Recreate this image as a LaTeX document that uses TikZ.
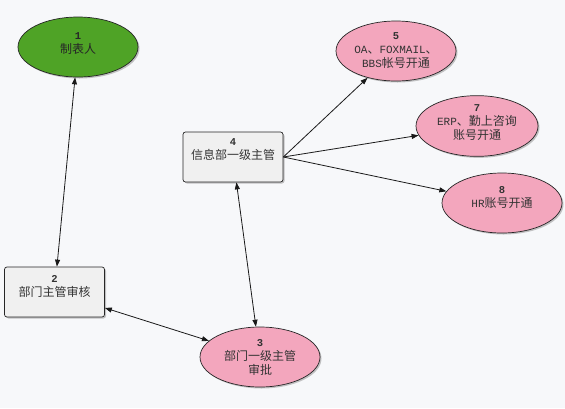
\documentclass[tikz,border=0pt]{standalone}
\usepackage{fontspec}
\setmainfont{Noto Sans CJK SC}
\newfontfamily\monof{Liberation Mono}
\usetikzlibrary{arrows.meta,shadows,shapes.geometric}
\definecolor{bgc}{HTML}{F7F8FA}
\definecolor{greenfill}{HTML}{4FA326}
\definecolor{pinkfill}{HTML}{F3A6BD}
\definecolor{boxfill}{HTML}{F0F0F0}
\definecolor{txt}{HTML}{333333}
\newcommand{\num}[1]{{\monof\bfseries\fontsize{10.5}{14}\selectfont #1}}
\newcommand{\lat}[1]{{\monof\fontsize{11}{14}\selectfont #1}}
\tikzset{
  shad/.style={drop shadow={shadow xshift=1.5pt,shadow yshift=-1.5pt,fill=black!45,opacity=0.5}},
  ell/.style={ellipse,draw=black!85,line width=0.7pt,minimum width=120pt,minimum height=60pt,
    inner sep=0pt,align=center,font=\fontsize{12}{14}\selectfont,text=txt,shad},
  bx/.style={rectangle,rounded corners=2.5pt,draw=black!85,line width=0.7pt,fill=boxfill,
    minimum width=100pt,minimum height=50pt,inner sep=0pt,align=center,
    font=\fontsize{12}{14}\selectfont,text=txt,shad},
  conn/.style={line width=0.8pt,draw=black!90,>={Triangle[length=7pt,width=5pt]}}
}
\begin{document}
\begin{tikzpicture}[x=1pt,y=-1pt]
\fill[bgc] (0,0) rectangle (565,408);
\useasboundingbox (0,0) rectangle (565,408);
\node[ell,fill=greenfill,text=black!85,text depth=8pt] (n1) at (78,47) {\num{1}\\制表人};
\node[bx,text depth=12pt] (n2) at (54.5,292) {\num{2}\\部门主管审核};
\node[ell,fill=pinkfill] (n3) at (260,357) {\num{3}\\部门一级主管\\审批};
\node[bx,text depth=16pt] (n4) at (233,157) {\num{4}\\信息部一级主管};
\node[ell,fill=pinkfill] (n5) at (396,51) {\num{5}\\\lat{OA}、\lat{FOXMAIL}、\\\lat{BBS}帐号开通};
\node[ell,fill=pinkfill,minimum width=122pt,minimum height=58pt,text depth=8pt] (n7) at (477,126) {\num{7}\\\lat{ERP}、勤上咨询\\账号开通};
\node[ell,fill=pinkfill,text depth=12pt] (n8) at (502,203) {\num{8}\\\lat{HR}账号开通};
\draw[conn,<->] (n1) -- (n2);
\draw[conn,<->] (n2) -- (n3);
\draw[conn,<->] (n3) -- (n4);
\draw[conn,->] (n4.east) -- (n5);
\draw[conn,->] (n4.east) -- (n7);
\draw[conn,->] (n4.east) -- (n8);
\end{tikzpicture}
\end{document}
